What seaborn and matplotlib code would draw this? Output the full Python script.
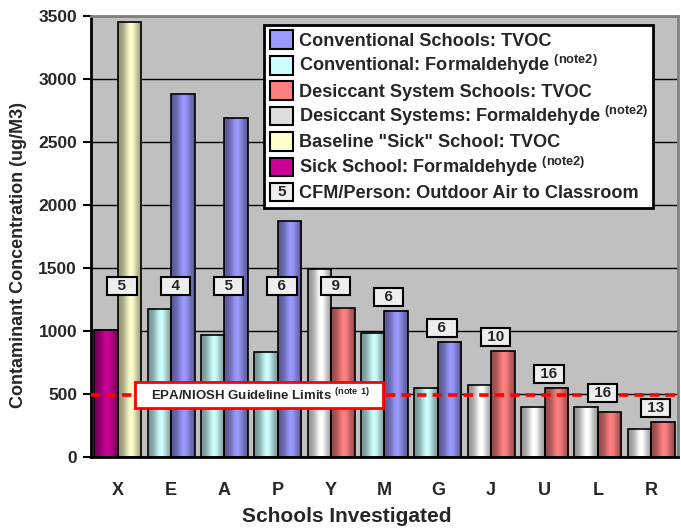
import numpy as np
import pandas as pd
import matplotlib
matplotlib.use("Agg")
import matplotlib.pyplot as plt
import seaborn as sns
from matplotlib.patches import Patch
from matplotlib.colors import to_rgb
from matplotlib import font_manager

# data
schools = ["X", "E", "A", "P", "Y", "M", "G", "J", "U", "L", "R"]
formaldehyde = [1010, 1175, 965, 830, 1490, 980, 550, 570, 395, 395, 225]
tvoc = [3450, 2880, 2690, 1870, 1180, 1160, 915, 840, 550, 355, 280]
school_type = ["sick", "conv", "conv", "conv", "desic", "conv", "conv",
               "desic", "desic", "desic", "desic"]
cfm = [5, 4, 5, 6, 9, 6, 6, 10, 16, 16, 13]
guideline = 490

colors = {
    "conv": ("#CCFFFF", "#9999FF"),
    "desic": ("#FFFFFF", "#FF8080"),
    "sick": ("#CC0099", "#FFFFCC"),
}

sns.set_style("white")
plt.rcParams["font.family"] = ["Liberation Sans", "DejaVu Sans"]
plt.rcParams["font.weight"] = "bold"
plt.rcParams["mathtext.fontset"] = "custom"
plt.rcParams["mathtext.rm"] = "Liberation Sans"
plt.rcParams["mathtext.bf"] = "Liberation Sans:bold"

# narrow face for the x axis title if present
narrow_path = font_manager.findfont(
    font_manager.FontProperties(family="Liberation Sans Narrow", weight="bold"),
    fallback_to_default=True)
has_narrow = "Narrow" in narrow_path

df = pd.DataFrame({
    "school": schools * 2,
    "kind": ["Formaldehyde"] * len(schools) + ["TVOC"] * len(schools),
    "value": formaldehyde + tvoc,
})

fig = plt.figure(figsize=(6.81, 5.31), dpi=100)
ax = fig.add_axes([0.1336, 0.1394, 0.862, 0.8306])
ax.set_facecolor("#C0C0C0")

sns.barplot(data=df, x="school", y="value", hue="kind",
            hue_order=["Formaldehyde", "TVOC"], width=0.88,
            edgecolor="black", linewidth=1.2, legend=False, ax=ax, zorder=3)


def shade(bar, color):
    # cylinder-like shading: darker edges, light band right of centre
    x, w, h = bar.get_x(), bar.get_width(), bar.get_height()
    t = np.linspace(0, 1, 60)
    k = 0.58 + 0.42 * np.exp(-((t - 0.55) / 0.28) ** 2)
    img = np.clip(np.array(to_rgb(color))[None, None, :] * k[None, :, None], 0, 1)
    ax.imshow(img, extent=[x, x + w, 0, h], aspect="auto", zorder=2.5,
              interpolation="bilinear")
    bar.set_facecolor("none")


for i, kind in enumerate(["Formaldehyde", "TVOC"]):
    for j, bar in enumerate(ax.containers[i]):
        shade(bar, colors[school_type[j]][i])

ax.set_xlim(-0.5, len(schools) - 0.5)
ax.set_ylim(0, 3500)
ax.set_yticks(np.arange(0, 3501, 500))
ax.grid(axis="y", color="black", linewidth=1)
ax.set_axisbelow(True)

# EPA/NIOSH guideline
ax.axhline(guideline, color="#FF0000", linewidth=2.6, linestyle=(0, (2.6, 1.7)), zorder=4)
ax.text(2.65, guideline, r"   EPA/NIOSH Guideline Limits $^{\mathbf{(note\ 1)}}$   ",
        fontsize=9.5, fontweight="bold", ha="center", va="center", zorder=5,
        bbox=dict(boxstyle="square,pad=0.35", fc="white", ec="#FF0000", lw=2))

# CFM/person labels
for j, c in enumerate(cfm):
    y = min(max(formaldehyde[j], tvoc[j]) + 110, 1360)
    label = f" {c} " if c >= 10 else f"  {c}  "
    ax.text(j + 0.08, y, label, fontsize=11, fontweight="bold", ha="center",
            va="center", zorder=5,
            bbox=dict(boxstyle="square,pad=0.13", fc="#EEEEEE", ec="black", lw=1.5))

# axes styling
ax.set_xticks(np.arange(-0.5, len(schools), 1), minor=True)
ax.tick_params(axis="x", which="major", length=0, pad=18, labelsize=13)
ax.tick_params(axis="x", which="minor", length=6, width=1.5, direction="out", color="black")
ax.tick_params(axis="y", length=6, width=1.5, direction="out", color="black",
               labelsize=12.5, pad=4, left=True)
for s in ["left", "bottom"]:
    ax.spines[s].set_color("black")
    ax.spines[s].set_linewidth(2)
for s in ["top", "right"]:
    ax.spines[s].set_color("#808080")
    ax.spines[s].set_linewidth(2)

if has_narrow:
    ax.set_xlabel("Schools Investigated", fontsize=18, fontweight="bold",
                  family=["Liberation Sans Narrow", "Liberation Sans"])
else:
    ax.set_xlabel("Schools Investigated", fontsize=15, fontweight="bold")
ax.xaxis.label.set_va("center")
ax.xaxis.set_label_coords(0.436, -0.134)
ax.set_ylabel("Contaminant Concentration (ug/M3)", fontsize=13, fontweight="bold")
ax.yaxis.label.set_va("center")
ax.yaxis.set_label_coords(-0.1227, 0.458)

# legend
sup = r" $^{\mathbf{(note2)}}$"
handles = [
    Patch(fc=colors["conv"][1], ec="black", lw=1.5),
    Patch(fc=colors["conv"][0], ec="black", lw=1.5),
    Patch(fc=colors["desic"][1], ec="black", lw=1.5),
    Patch(fc="#DDDDDD", ec="black", lw=1.5),
    Patch(fc=colors["sick"][1], ec="black", lw=1.5),
    Patch(fc=colors["sick"][0], ec="black", lw=1.5),
    Patch(fc="#EEEEEE", ec="black", lw=1.5),
]
labels = [
    "Conventional Schools: TVOC",
    "Conventional: Formaldehyde" + sup,
    "Desiccant System Schools: TVOC",
    "Desiccant Systems: Formaldehyde" + sup,
    'Baseline "Sick" School: TVOC',
    "Sick School: Formaldehyde" + sup,
    "CFM/Person: Outdoor Air to Classroom",
]
leg = ax.legend(handles, labels, loc="upper right", bbox_to_anchor=(0.958, 0.98),
                prop={"weight": "bold", "size": 13.1}, handlelength=1.3,
                handleheight=1.2, labelspacing=0.2, handletextpad=0.3,
                borderpad=0.3, borderaxespad=0, fancybox=False, framealpha=1,
                edgecolor="black")
leg.get_frame().set_linewidth(2)
leg.set_zorder(6)

fig.canvas.draw()
bb = leg.legend_handles[-1].get_window_extent()
cx, cy = fig.transFigure.inverted().transform(((bb.x0 + bb.x1) / 2, (bb.y0 + bb.y1) / 2))
fig.text(cx, cy, "5", fontsize=11, fontweight="bold", ha="center", va="center", zorder=10)

fig.savefig("out.png", dpi=100)
